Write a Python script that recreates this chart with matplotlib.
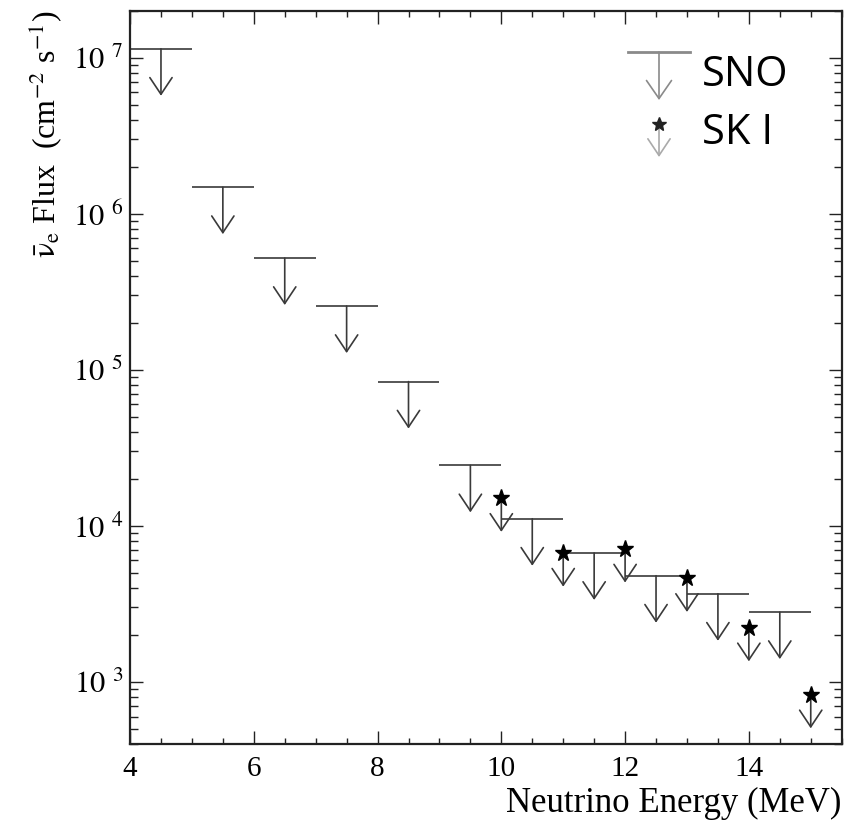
import matplotlib
matplotlib.use("Agg")
import math
import matplotlib.pyplot as plt
from matplotlib.patches import FancyArrowPatch
from matplotlib.ticker import FixedLocator, MultipleLocator, LogLocator, FuncFormatter, NullFormatter

plt.rcParams['font.family'] = 'serif'
plt.rcParams['font.serif'] = ['Liberation Serif', 'DejaVu Serif']
plt.rcParams['mathtext.fontset'] = 'stix'

# ---- data ----
sno_lo = [4, 5, 6, 7, 8, 9, 10, 11, 12, 13, 14]
sno_hi = [5, 6, 7, 8, 9, 10, 11, 12, 13, 14, 15]
sno_limit = [1.14e7, 1.48e6, 5.2e5, 2.56e5, 8.4e4, 2.44e4, 1.11e4, 6.7e3, 4.79e3, 3.67e3, 2.8e3]
sk_energy = [10, 11, 12, 13, 14, 15]
sk_limit = [1.5e4, 6.68e3, 7.1e3, 4.6e3, 2.22e3, 8.26e2]
x_ticks = [4, 6, 8, 10, 12, 14]
legend_labels = ["SNO", "SK I"]

sno_arrow_factor = 0.5
sk_arrow_factor = 0.61

fig = plt.figure(figsize=(8.6, 8.24), dpi=100)
ax = fig.add_axes([0.1512, 0.0971, 0.8275, 0.8899])
ax.set_yscale('log')
ax.set_xlim(4, 15.5)
ax.set_ylim(400, 2e7)

line_col = '#3a3a3a'
lw = 1.2

def down_arrow(x, y0, y1, color, transform=None, hl=12, hw=8):
    kw = {}
    if transform is not None:
        kw['transform'] = transform
    a = FancyArrowPatch((x, y0), (x, y1),
                        arrowstyle=f'->,head_length={hl},head_width={hw}',
                        mutation_scale=1, shrinkA=0, shrinkB=0,
                        color=color, lw=lw, **kw)
    ax.add_patch(a)

# SNO bars
ax.hlines(sno_limit, sno_lo, sno_hi, colors=line_col, lw=lw)
for lo, hi, v in zip(sno_lo, sno_hi, sno_limit):
    xc = 0.5 * (lo + hi)
    down_arrow(xc, v, v * sno_arrow_factor, line_col)

# SK I
for e, v in zip(sk_energy, sk_limit):
    down_arrow(e, v, v * sk_arrow_factor, line_col)
ax.plot(sk_energy, sk_limit, linestyle='none', marker='*', ms=12.5, color='black', zorder=5)

# axes styling
ax.xaxis.set_major_locator(FixedLocator(x_ticks))
ax.xaxis.set_minor_locator(MultipleLocator(0.5))
ax.yaxis.set_major_locator(LogLocator(base=10, numticks=20))
ax.yaxis.set_minor_locator(LogLocator(base=10, subs=range(2, 10), numticks=20))
ax.yaxis.set_minor_formatter(NullFormatter())
ax.yaxis.set_major_formatter(FuncFormatter(lambda v, p: r'$10\ {}^{%d}$' % int(round(math.log10(v)))))

ax.tick_params(which='both', direction='in', top=True, right=True, width=1.0, color='#222222')
ax.tick_params(axis='x', which='major', length=9.5, labelsize=21, pad=9)
ax.tick_params(axis='x', which='minor', length=4.2)
ax.tick_params(axis='y', which='major', length=9.5, labelsize=22, pad=5)
ax.tick_params(axis='y', which='minor', length=5.5)
for s in ax.spines.values():
    s.set_linewidth(1.6)
    s.set_color('#222222')

ax.set_xlabel('Neutrino Energy (MeV)', fontsize=25, loc='right', labelpad=3)
ax.set_ylabel(r'$\bar{\mathrm{\nu}}_{\mathrm{e}}$ Flux  (cm$^{-2}$ s$^{-1}$)', fontsize=23, loc='top', labelpad=6)

# legend (manual)
leg_col = '#8a8a8a'
ax.plot([0.6997, 0.7869], [0.9437, 0.9437], transform=ax.transAxes, color=leg_col, lw=2.0)
down_arrow(0.7433, 0.9437, 0.8782, leg_col, transform=ax.transAxes, hl=13, hw=9)
down_arrow(0.7433, 0.8455, 0.8005, '#aaaaaa', transform=ax.transAxes, hl=12, hw=8)
ax.plot([0.7433], [0.8455], transform=ax.transAxes, marker='*', ms=10, color='#222222', linestyle='none')
ax.text(0.8037, 0.9123, legend_labels[0], transform=ax.transAxes, fontsize=30,
        family=['Open Sans', 'DejaVu Sans'], va='center', ha='left')
ax.text(0.8037, 0.8332, legend_labels[1], transform=ax.transAxes, fontsize=30,
        family=['Open Sans', 'DejaVu Sans'], va='center', ha='left')

fig.savefig('out.png', dpi=100)
